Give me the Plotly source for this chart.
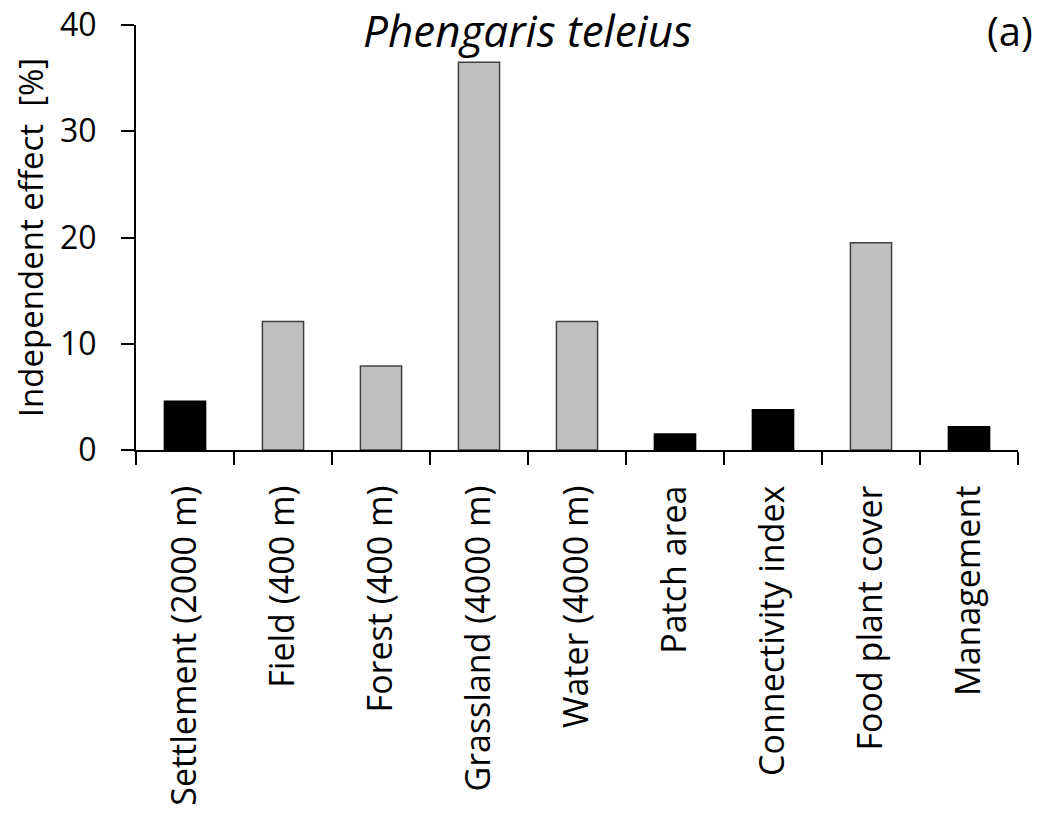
import plotly.graph_objects as go

categories = ["Settlement (2000 m)", "Field (400 m)", "Forest (400 m)", "Grassland (4000 m)",
              "Water (4000 m)", "Patch area", "Connectivity index", "Food plant cover", "Management"]
values = [4.6, 12.1, 7.9, 36.5, 12.1, 1.5, 3.8, 19.5, 2.2]
is_black = [True, False, False, False, False, True, True, False, True]

fill = ["#000000" if b else "#C0C0C0" for b in is_black]
edge = ["#000000" if b else "#404040" for b in is_black]

FONT = "Open Sans"

fig = go.Figure(go.Bar(
    x=categories, y=values,
    marker=dict(color=fill, line=dict(color=edge, width=1.5)),
    width=0.42,
))

fig.update_layout(
    width=1055, height=820,
    paper_bgcolor="white", plot_bgcolor="white",
    margin=dict(l=128, r=45, t=17, b=378),
    showlegend=False,
    font=dict(family=FONT, color="black"),
    annotations=[
        dict(text="<i>Phengaris teleius</i>", x=0.444, y=0.988, xref="paper", yref="paper",
             xanchor="center", yanchor="middle", showarrow=False,
             font=dict(family=FONT, size=44, color="black")),
        dict(text="(a)", x=1.019, y=0.986, xref="paper", yref="paper",
             xanchor="right", yanchor="middle", showarrow=False,
             font=dict(family=FONT, size=40, color="black")),
    ],
)

fig.update_xaxes(
    type="category", showline=True, linecolor="black", linewidth=2,
    ticks="outside", tickson="boundaries", ticklen=13, tickwidth=2, tickcolor="black",
    tickangle=-90, tickfont=dict(family=FONT, size=34, color="black"),
    ticklabelstandoff=20, automargin=False,
    showgrid=False, zeroline=False,
)
fig.update_yaxes(
    range=[0, 40], tickvals=[0, 10, 20, 30, 40],
    showline=True, linecolor="black", linewidth=2,
    ticks="outside", ticklen=13, tickwidth=2, tickcolor="black",
    tickfont=dict(family=FONT, size=32, color="black"),
    ticklabelstandoff=18, ticklabeloverflow="allow", automargin="left",
    title=dict(text="Independent effect  [%]", font=dict(family=FONT, size=33, color="black"), standoff=13),
    showgrid=False, zeroline=False,
)

fig.write_html("out.html")
